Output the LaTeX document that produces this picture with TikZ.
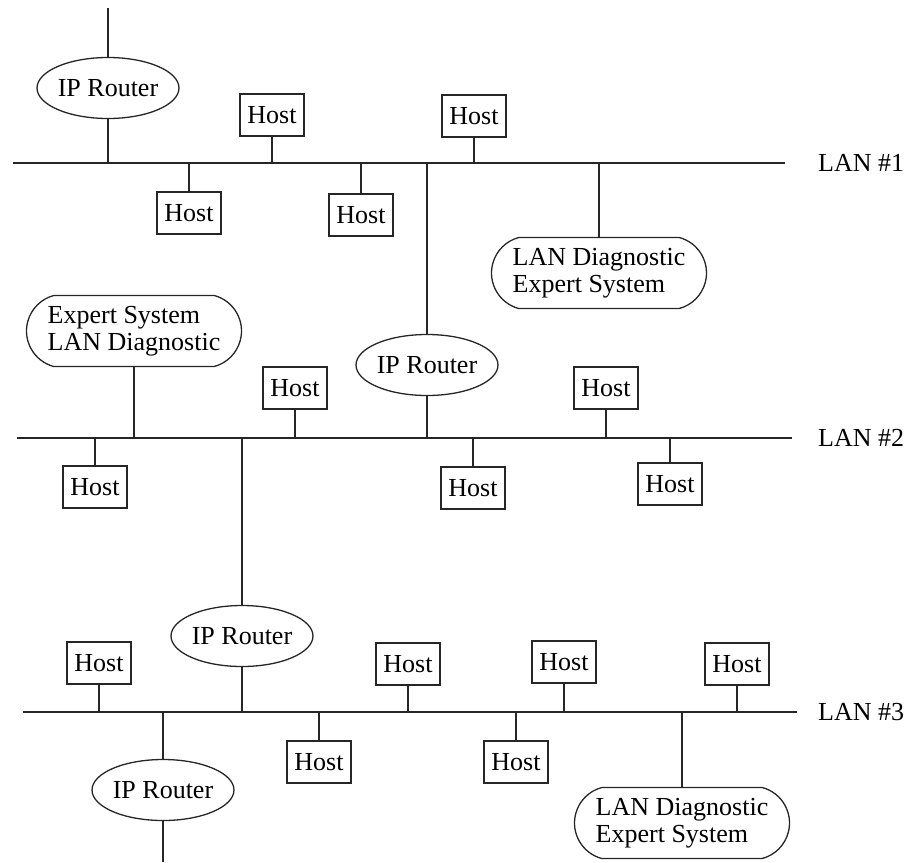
\documentclass[tikz,border=0pt]{standalone}
\usepackage{fontspec}
\setmainfont{Liberation Serif}
\usetikzlibrary{shapes.geometric,shapes.misc}
\begin{document}
\begin{tikzpicture}[x=1pt,y=-1pt,
  every node/.style={font=\fontsize{26}{27}\selectfont, inner sep=0pt},
  wire/.style={line width=1.3pt, draw=black!85},
  hostbox/.style={draw=black!85, line width=1.3pt, rectangle, minimum width=64pt, minimum height=42pt},
  router/.style={draw=black!85, line width=1.3pt, ellipse, minimum width=139pt, minimum height=61pt},
  expert/.style={draw=black!85, line width=1.3pt, rounded rectangle, rounded rectangle arc length=150,
                 minimum width=215pt, minimum height=71pt, align=left},
  lanlabel/.style={anchor=west}]
\useasboundingbox (0,0) rectangle (912,862);

% bus segments
\coordinate (lan1w) at (13,163);  \coordinate (lan1e) at (785,163);
\coordinate (lan2w) at (17,438);  \coordinate (lan2e) at (792,438);
\coordinate (lan3w) at (23,712);  \coordinate (lan3e) at (797,712);
\draw[wire] (lan1w) -- (lan1e);
\draw[wire] (lan2w) -- (lan2e);
\draw[wire] (lan3w) -- (lan3e);
\node[lanlabel] (l1) at (818,163) {LAN \#1};
\node[lanlabel] (l2) at (818,438) {LAN \#2};
\node[lanlabel] (l3) at (818,712) {LAN \#3};

% LAN #1 stations
\node[router] (r1) at (108,88) {IP Router};
\coordinate (up) at (108,8);
\node[hostbox] (h1a) at (272,115) {Host};
\node[hostbox] (h1b) at (474,116) {Host};
\node[hostbox] (h1c) at (189,213) {Host};
\node[hostbox] (h1d) at (361,215) {Host};
\node[expert] (e1) at (599,273) {LAN Diagnostic\\Expert System};

% LAN #2 stations
\node[expert] (e2) at (134,331) {Expert System\\LAN Diagnostic};
\node[hostbox] (h2a) at (295,388) {Host};
\node[router] (r2) at (427,365) {IP Router};
\node[hostbox] (h2b) at (606,388) {Host};
\node[hostbox] (h2c) at (95,487) {Host};
\node[hostbox] (h2d) at (473,488) {Host};
\node[hostbox] (h2e) at (670,484) {Host};

% LAN #3 stations
\node[router] (r3) at (242,636) {IP Router};
\node[hostbox] (h3a) at (99,663) {Host};
\node[hostbox] (h3b) at (408,664) {Host};
\node[hostbox] (h3c) at (564,662) {Host};
\node[hostbox] (h3d) at (737,664) {Host};
\node[hostbox] (h3e) at (319,762) {Host};
\node[hostbox] (h3f) at (516,762) {Host};
\node[expert] (e3) at (682,823) {LAN Diagnostic\\Expert System};
\node[router] (r4) at (163,790) {IP Router};
\coordinate (down) at (163,862);

% drops onto LAN #1
\draw[wire] (r1.north) -- (up);
\foreach \n in {r1,h1a,h1b} \draw[wire] (\n.south) -- (\n.south |- lan1w);
\foreach \n in {h1c,h1d,e1} \draw[wire] (\n.north) -- (\n.north |- lan1w);
\draw[wire] (r2.north) -- (r2.north |- lan1w);

% drops onto LAN #2
\foreach \n in {e2,h2a,r2,h2b} \draw[wire] (\n.south) -- (\n.south |- lan2w);
\foreach \n in {h2c,h2d,h2e} \draw[wire] (\n.north) -- (\n.north |- lan2w);
\draw[wire] (r3.north) -- (r3.north |- lan2w);

% drops onto LAN #3
\foreach \n in {r3,h3a,h3b,h3c,h3d} \draw[wire] (\n.south) -- (\n.south |- lan3w);
\foreach \n in {h3e,h3f,e3,r4} \draw[wire] (\n.north) -- (\n.north |- lan3w);
\draw[wire] (r4.south) -- (down);
\end{tikzpicture}
\end{document}
